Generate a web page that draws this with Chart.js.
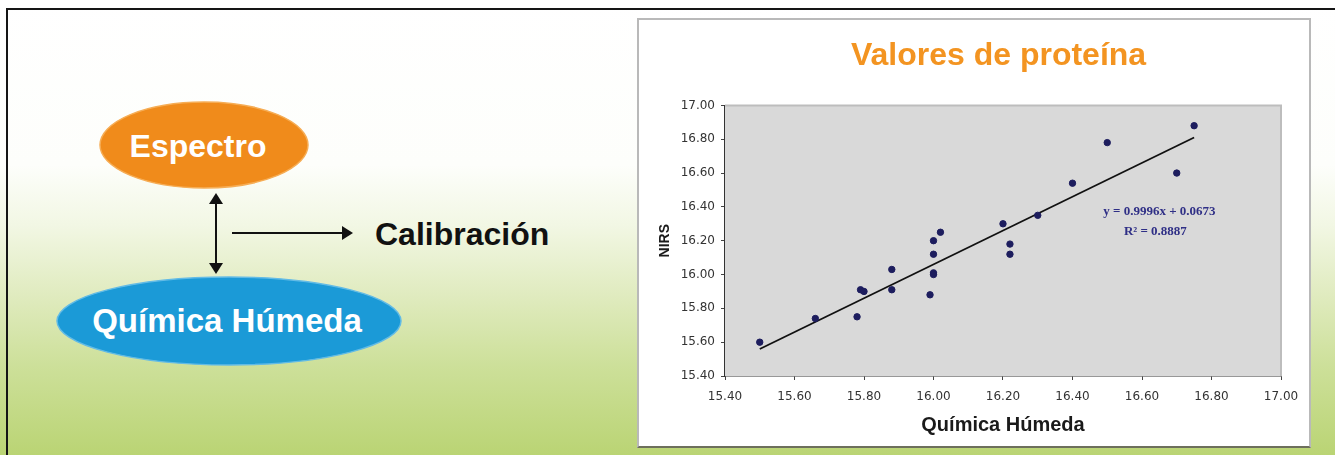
<!DOCTYPE html>
<html>
<head>
<meta charset="utf-8">
<script src="https://cdn.jsdelivr.net/npm/chart.js@4.4.1/dist/chart.umd.min.js"></script>
<style>
  html, body { margin:0; padding:0; width:1335px; height:455px; overflow:hidden; background:#fff; }
  #bg { position:absolute; left:0; top:0; width:1335px; height:455px;
        background: linear-gradient(to bottom, #ffffff 0px, #fdfefb 165px, #f2f7e4 225px, #e0ebbf 295px, #cde09a 365px, #bad474 455px); }
  #frame { position:absolute; left:6px; top:8px; width:1329px; height:447px; border-top:2px solid #151515; border-left:2px solid #151515; box-sizing:border-box; }
  #panel { position:absolute; left:637px; top:18px; width:674px; height:430px; box-sizing:border-box;
           background:#fff; border:2px solid #b9b9b9; border-bottom-color:#6d6f5c; }
  #diagram { position:absolute; left:0; top:0; }
  #chart { position:absolute; left:640px; top:21px; }
</style>
</head>
<body>
<div id="bg"></div>
<div id="frame"></div>
<svg id="diagram" width="640" height="455" xmlns="http://www.w3.org/2000/svg">
  <ellipse cx="204" cy="145" rx="104" ry="43" fill="#f08b1b" stroke="#f6ad55" stroke-width="1.5"/>
  <text x="198" y="157" text-anchor="middle" font-family="Liberation Sans, Arial, sans-serif" font-weight="bold" font-size="32" fill="#ffffff">Espectro</text>
  <line x1="216" y1="201" x2="216" y2="266" stroke="#111" stroke-width="2"/>
  <polygon points="216,193 209,204 223,204" fill="#111"/>
  <polygon points="216,274 209,263 223,263" fill="#111"/>
  <line x1="232" y1="233" x2="344" y2="233" stroke="#111" stroke-width="2"/>
  <polygon points="353,233 342,226 342,240" fill="#111"/>
  <text x="375" y="245" font-family="Liberation Sans, Arial, sans-serif" font-weight="bold" font-size="32" fill="#111">Calibración</text>
  <ellipse cx="229" cy="321" rx="172" ry="44" fill="#1b9ad7" stroke="#62bbe6" stroke-width="1.5"/>
  <text x="227" y="332" text-anchor="middle" font-family="Liberation Sans, Arial, sans-serif" font-weight="bold" font-size="33" fill="#ffffff">Química Húmeda</text>
</svg>
<div id="panel"></div>
<canvas id="chart" width="717" height="424"></canvas>
<script>
// ---- data ----
const quimicaHumeda = [15.50, 15.66, 15.78, 15.79, 15.80, 15.88, 15.88, 15.99, 16.00, 16.00, 16.00, 16.00, 16.02, 16.20, 16.22, 16.22, 16.30, 16.40, 16.50, 16.70, 16.75];
const nirs          = [15.60, 15.74, 15.75, 15.91, 15.90, 16.03, 15.91, 15.88, 16.01, 16.00, 16.12, 16.20, 16.25, 16.30, 16.18, 16.12, 16.35, 16.54, 16.78, 16.60, 16.88];
const trendX = [15.50, 16.75];
const trendY = [15.56, 16.81];
const xTickValues = [15.40, 15.60, 15.80, 16.00, 16.20, 16.40, 16.60, 16.80, 17.00];
const yTickValues = [15.40, 15.60, 15.80, 16.00, 16.20, 16.40, 16.60, 16.80, 17.00];
const chartTitle = 'Valores de proteína';
const xTitle = 'Química Húmeda';
const yTitle = 'NIRS';
const equationLines = ['y = 0.9996x + 0.0673', 'R² = 0.8887'];

const points = quimicaHumeda.map((x, i) => ({ x: x, y: nirs[i] }));
const trend = trendX.map((x, i) => ({ x: x, y: trendY[i] }));

const plotBg = {
  id: 'plotBg',
  beforeDatasetsDraw(chart) {
    const { ctx, chartArea: a } = chart;
    ctx.save();
    ctx.fillStyle = '#d9d9d9';
    ctx.fillRect(a.left, a.top, a.right - a.left, a.bottom - a.top);
    ctx.strokeStyle = '#bdbdbd';
    ctx.lineWidth = 2;
    ctx.beginPath();
    ctx.moveTo(a.left, a.top);
    ctx.lineTo(a.right, a.top);
    ctx.lineTo(a.right, a.bottom);
    ctx.stroke();
    ctx.restore();
  }
};

const equation = {
  id: 'equation',
  afterDatasetsDraw(chart) {
    const { ctx, scales } = chart;
    const cx = scales.x.getPixelForValue(16.65);
    ctx.save();
    ctx.fillStyle = '#2f2f86';
    ctx.font = 'bold 13px "Liberation Serif", "Times New Roman", serif';
    ctx.textAlign = 'center';
    ctx.textBaseline = 'middle';
    ctx.fillText(equationLines[0], cx, scales.y.getPixelForValue(16.37));
    ctx.fillText(equationLines[1], cx - 4, scales.y.getPixelForValue(16.255));
    ctx.restore();
  }
};

new Chart(document.getElementById('chart'), {
  type: 'scatter',
  data: {
    datasets: [
      { data: points, backgroundColor: '#1d1d5e', borderColor: '#1d1d5e', pointRadius: 3.2, pointHoverRadius: 3.2, order: 1 },
      { data: trend, showLine: true, borderColor: '#111111', borderWidth: 1.8, pointRadius: 0, fill: false, order: 2 }
    ]
  },
  options: {
    responsive: false,
    animation: false,
    events: [],
    layout: { padding: 0 },
    plugins: {
      legend: { display: false },
      tooltip: { enabled: false },
      title: {
        display: true, text: chartTitle, color: '#f39421',
        font: { family: '"Liberation Sans", Arial, sans-serif', size: 32, weight: 'bold' },
        padding: { top: 16, bottom: 30 }
      }
    },
    scales: {
      x: {
        type: 'linear', position: 'bottom', min: 15.4, max: 17.0,
        afterBuildTicks: s => { s.ticks = xTickValues.map(v => ({ value: v })); },
        afterFit: s => { s.height = 69; },
        grid: { drawOnChartArea: false, drawTicks: true, tickLength: 4, color: '#444' },
        border: { display: true, color: '#333', width: 1.5 },
        ticks: { padding: 10, color: '#333333', font: { family: '"DejaVu Sans", sans-serif', size: 12 }, callback: v => v.toFixed(2), maxRotation: 0 },
        title: { display: true, text: xTitle, color: '#1a1a1a', font: { family: '"Liberation Sans", Arial, sans-serif', size: 20, weight: 'bold' }, padding: { top: 0, bottom: 8 } }
      },
      y: {
        type: 'linear', position: 'left', min: 15.4, max: 17.0,
        afterBuildTicks: s => { s.ticks = yTickValues.map(v => ({ value: v })); },
        afterFit: s => { s.width = 85; },
        grid: { drawOnChartArea: false, drawTicks: true, tickLength: 4, color: '#444' },
        border: { display: true, color: '#333', width: 1.5 },
        ticks: { padding: 6, color: '#333333', font: { family: '"DejaVu Sans", sans-serif', size: 12 }, callback: v => v.toFixed(2) },
        title: { display: true, text: yTitle, color: '#1a1a1a', font: { family: '"Liberation Sans", Arial, sans-serif', size: 14, weight: 'bold' }, padding: { top: 17, bottom: 0 } }
      },
      spacer: {
        type: 'linear', position: 'right', min: 0, max: 1, display: true,
        afterFit: s => { s.width = 76; },
        grid: { display: false, drawTicks: false },
        border: { display: false },
        ticks: { display: false },
        title: { display: false }
      }
    }
  },
  plugins: [plotBg, equation]
});
</script>
</body>
</html>
